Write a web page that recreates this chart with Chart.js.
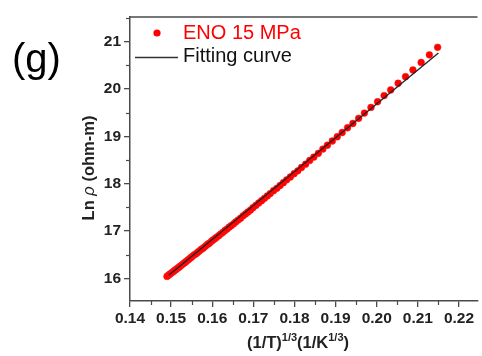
<!DOCTYPE html>
<html>
<head>
<meta charset="utf-8">
<script src="https://cdn.jsdelivr.net/npm/chart.js@4/dist/chart.umd.min.js"></script>
<style>
  html, body { margin: 0; padding: 0; background: #ffffff; }
  #wrap { position: relative; width: 482px; height: 356px; }
  canvas { display: block; }
</style>
</head>
<body>
<div id="wrap"><canvas id="c" width="482" height="356"></canvas></div>
<script>
// ---- data ----
const dataX = [0.1490,0.1493,0.1496,0.1499,0.1502,0.1505,0.1508,0.1511,0.1514,0.1517,0.1520,0.1523,0.1527,0.1530,0.1533,0.1536,0.1540,0.1543,0.1547,0.1550,0.1554,0.1557,0.1561,0.1565,0.1569,0.1573,0.1577,0.1581,0.1585,0.1589,0.1593,0.1598,0.1602,0.1607,0.1611,0.1616,0.1621,0.1626,0.1631,0.1636,0.1641,0.1646,0.1652,0.1657,0.1663,0.1669,0.1675,0.1681,0.1687,0.1693,0.1699,0.1706,0.1713,0.1720,0.1727,0.1734,0.1741,0.1749,0.1757,0.1765,0.1773,0.1781,0.1790,0.1799,0.1808,0.1817,0.1827,0.1837,0.1847,0.1858,0.1869,0.1880,0.1892,0.1904,0.1916,0.1929,0.1942,0.1956,0.1970,0.1986,0.2002,0.2018,0.2034,0.2052,0.2070,0.2088,0.2108,0.2128,0.2148];
const dataY = [16.04,16.06,16.08,16.10,16.12,16.14,16.16,16.18,16.20,16.22,16.24,16.26,16.29,16.31,16.33,16.35,16.38,16.40,16.43,16.45,16.48,16.50,16.52,16.55,16.58,16.61,16.63,16.66,16.69,16.72,16.74,16.78,16.81,16.84,16.87,16.90,16.94,16.97,17.01,17.04,17.08,17.11,17.15,17.19,17.23,17.27,17.32,17.36,17.40,17.44,17.49,17.54,17.59,17.64,17.69,17.74,17.79,17.85,17.90,17.96,18.02,18.08,18.14,18.21,18.27,18.34,18.41,18.49,18.56,18.64,18.73,18.81,18.90,18.99,19.08,19.18,19.27,19.38,19.49,19.61,19.73,19.86,19.98,20.12,20.26,20.40,20.56,20.72,20.88];
const fitX = [0.1495, 0.2150];
const fitY = [16.07, 20.76];
const xTicks = [0.14,0.15,0.16,0.17,0.18,0.19,0.20,0.21,0.22];
const yTicks = [16,17,18,19,20,21];
const seriesName = 'ENO 15 MPa';
const fitName = 'Fitting curve';

// ---- chart ----
const FONT = "'Liberation Sans', Arial, sans-serif";
const AXIS_COLOR = '#4a4a4a';

function minorOf(arr) {
  const out = [];
  for (let i = 0; i < arr.length - 1; i++) out.push((arr[i] + arr[i + 1]) / 2);
  return out;
}

const decorPlugin = {
  id: 'decor',
  afterDraw(chart) {
    const ctx = chart.ctx;
    const a = chart.chartArea;
    const xs = chart.scales.x, ys = chart.scales.y;
    ctx.save();
    // top frame line
    ctx.strokeStyle = AXIS_COLOR;
    ctx.lineWidth = 1.5;
    ctx.beginPath();
    ctx.moveTo(a.left, a.top);
    ctx.lineTo(a.right, a.top);
    ctx.stroke();
    // minor ticks
    ctx.lineWidth = 1.2;
    minorOf(xTicks).forEach(v => {
      const px = Math.round(xs.getPixelForValue(v)) + 0.5;
      ctx.beginPath(); ctx.moveTo(px, a.bottom); ctx.lineTo(px, a.bottom + 4); ctx.stroke();
    });
    const yMinor = minorOf(yTicks).concat([yTicks[0] - 0.5, yTicks[yTicks.length - 1] + 0.5]);
    yMinor.forEach(v => {
      if (v < ys.min || v > ys.max) return;
      const py = Math.round(ys.getPixelForValue(v)) + 0.5;
      ctx.beginPath(); ctx.moveTo(a.left, py); ctx.lineTo(a.left - 4, py); ctx.stroke();
    });

    // panel label
    ctx.fillStyle = '#000';
    ctx.textBaseline = 'alphabetic';
    ctx.textAlign = 'left';
    ctx.font = '40px ' + FONT;
    ctx.fillText('(g)', 12, 72);

    // legend
    ctx.fillStyle = '#ff0000';
    ctx.beginPath(); ctx.arc(157, 33, 3.6, 0, Math.PI * 2); ctx.fill();
    ctx.font = '20px ' + FONT;
    ctx.textBaseline = 'middle';
    ctx.fillText(seriesName, 183, 33);
    ctx.strokeStyle = '#333';
    ctx.lineWidth = 1.3;
    ctx.beginPath(); ctx.moveTo(135, 57.5); ctx.lineTo(178, 57.5); ctx.stroke();
    ctx.fillStyle = '#111';
    ctx.fillText(fitName, 183, 56);

    // x-axis title with superscripts
    const parts = [
      { t: '(1/T)', sup: false }, { t: '1/3', sup: true },
      { t: '(1/K', sup: false }, { t: '1/3', sup: true }, { t: ')', sup: false }
    ];
    const mainF = 'bold 16.5px ' + FONT, supF = 'bold 11px ' + FONT;
    let w = 0;
    parts.forEach(p => { ctx.font = p.sup ? supF : mainF; p.w = ctx.measureText(p.t).width; w += p.w; });
    let x0 = 298 - w / 2;
    ctx.textBaseline = 'alphabetic';
    ctx.fillStyle = '#222';
    parts.forEach(p => {
      ctx.font = p.sup ? supF : mainF;
      ctx.fillText(p.t, x0, p.sup ? 341 : 348);
      x0 += p.w;
    });

    // y-axis title (rotated)
    ctx.translate(89, 168);
    ctx.rotate(-Math.PI / 2);
    const yparts = [
      { t: 'Ln ', f: 'bold 16.5px ' + FONT },
      { t: 'ρ', f: 'italic 16.5px ' + FONT },
      { t: ' (ohm-m)', f: 'bold 16.5px ' + FONT }
    ];
    let yw = 0;
    yparts.forEach(p => { ctx.font = p.f; p.w = ctx.measureText(p.t).width; yw += p.w; });
    let yx = -yw / 2;
    ctx.textBaseline = 'middle';
    yparts.forEach(p => { ctx.font = p.f; ctx.fillText(p.t, yx, 0); yx += p.w; });
    ctx.restore();
  }
};

const scatterPts = dataX.map((x, i) => ({ x: x, y: dataY[i] }));
const fitPts = fitX.map((x, i) => ({ x: x, y: fitY[i] }));

new Chart(document.getElementById('c'), {
  type: 'scatter',
  data: {
    datasets: [
      {
        label: fitName,
        data: fitPts,
        showLine: true,
        borderColor: '#222',
        borderWidth: 1.3,
        pointRadius: 0,
        fill: false
      },
      {
        label: seriesName,
        data: scatterPts,
        backgroundColor: '#ff0000',
        borderColor: '#ff1a1a',
        borderWidth: 0.5,
        pointRadius: 3.4
      }
    ]
  },
  options: {
    responsive: false,
    animation: false,
    devicePixelRatio: 1,
    layout: { padding: { top: 17, right: 0, left: 0, bottom: 0 } },
    plugins: { legend: { display: false }, tooltip: { enabled: false } },
    scales: {
      x: {
        type: 'linear',
        min: 0.14,
        max: 0.2245,
        afterBuildTicks: s => { s.ticks = xTicks.map(v => ({ value: v })); },
        afterFit: s => { s.height = 55; },
        grid: { drawOnChartArea: false, drawTicks: true, tickLength: 6, color: AXIS_COLOR, lineWidth: 1.3 },
        border: { display: true, color: AXIS_COLOR, width: 1.5 },
        ticks: {
          autoSkip: false, maxRotation: 0, padding: 2, color: '#222',
          font: { family: FONT, size: 15.5, weight: 'bold' },
          callback: v => Number(v).toFixed(2)
        }
      },
      y: {
        type: 'linear',
        min: 15.52,
        max: 21.52,
        afterBuildTicks: s => { s.ticks = yTicks.map(v => ({ value: v })); },
        afterFit: s => { s.width = 130; },
        grid: { drawOnChartArea: false, drawTicks: true, tickLength: 6, color: AXIS_COLOR, lineWidth: 1.3 },
        border: { display: true, color: AXIS_COLOR, width: 1.5 },
        ticks: {
          autoSkip: false, padding: 3, color: '#222',
          font: { family: FONT, size: 15.5, weight: 'bold' },
          callback: v => String(v)
        }
      }
    }
  },
  plugins: [decorPlugin]
});
</script>
</body>
</html>
